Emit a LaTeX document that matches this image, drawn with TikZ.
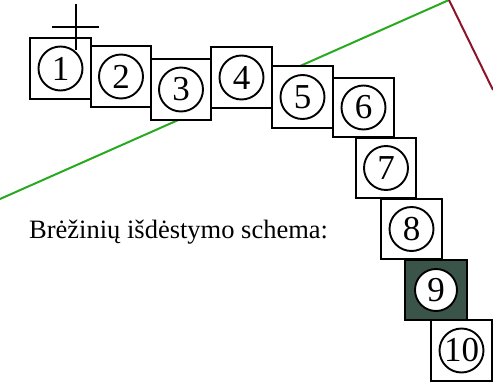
\documentclass[tikz,border=0pt]{standalone}
\usepackage{fontspec}
\setmainfont{Liberation Serif}
\definecolor{lgreen}{RGB}{40,170,30}
\definecolor{dred}{RGB}{140,20,40}
\definecolor{dbox}{RGB}{58,84,74}
\begin{document}
\begin{tikzpicture}[x=1pt,y=-1pt,
  sheet/.style={draw=black,line width=2pt,fill=white,inner sep=0pt},
  num/.style={circle,draw=black,line width=1.9pt,fill=white,minimum size=44pt,inner sep=0pt,font=\fontsize{35}{35}\selectfont}]
\useasboundingbox (0,0) rectangle (493,383);
\coordinate (gA) at (0,199);
\coordinate (gB) at (449,0);
\coordinate (rB) at (493,90);
\draw[lgreen,line width=2pt] (gA) -- (gB);
\draw[dred,line width=2pt] (gB) -- (rB);
% boxes: x1,y1,x2,y2
\foreach \i/\xa/\ya/\xb/\yb in {1/30/38/91/99,2/91/46/151/107,3/151/59/211/120,4/211/47/272/108,5/272/66/333/128,6/333/78/394/137,7/356/138/416/198,8/381/199/442/259,10/431/320/492/381}{
  \path[sheet] (\xa,\ya) rectangle (\xb,\yb);
  \node[num] (c\i) at ({(\xa+\xb)/2},{(\ya+\yb)/2}) {\i};
}
\path[sheet,fill=dbox] (405,260) rectangle (467,320);
\node[num,minimum size=42pt] (c9) at (436,290) {9};
\node[anchor=base west,inner sep=0pt,font=\fontsize{26.5}{26.5}\selectfont] (title) at (29,238) {Brėžinių išdėstymo schema:};
\coordinate (vT) at (76,4);
\coordinate (vB) at (76,50);
\coordinate (hL) at (52,27);
\coordinate (hR) at (99,27);
\draw[line width=1.6pt] (vT) -- (vB);
\draw[line width=1.6pt] (hL) -- (hR);
\end{tikzpicture}
\end{document}
